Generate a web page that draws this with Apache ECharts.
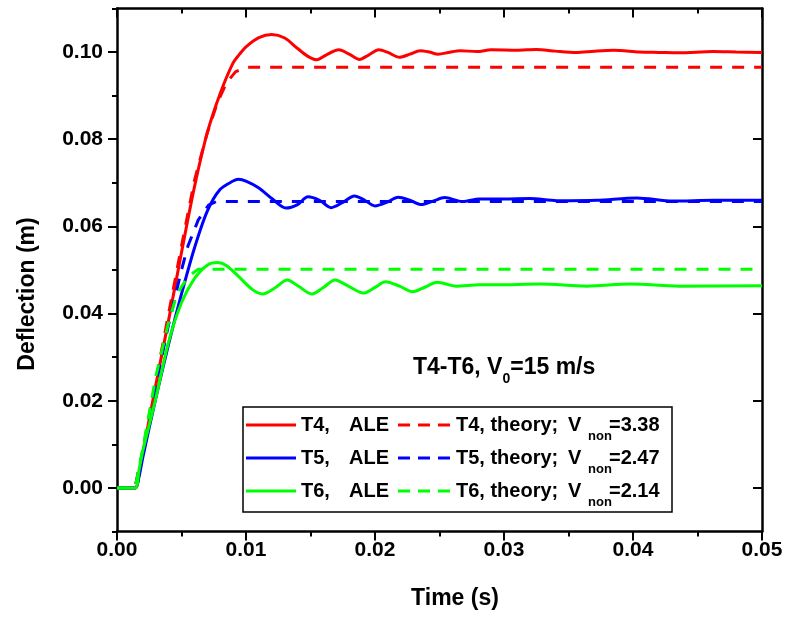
<!DOCTYPE html>
<html>
<head>
<meta charset="utf-8">
<script src="https://cdn.jsdelivr.net/npm/echarts@6/dist/echarts.min.js"></script>
<style>
  html, body { margin: 0; padding: 0; background: #fff; }
  #chart { width: 788px; height: 618px; }
</style>
</head>
<body>
<div id="chart"></div>
<script>
// ---- data: deflection histories (time in s, deflection in m) ----
const t4AleTime = [0, 0.0014, 0.0017, 0.002, 0.003, 0.004, 0.005, 0.006, 0.007, 0.008, 0.009, 0.0095, 0.010, 0.011, 0.012, 0.013, 0.014, 0.0148, 0.0155, 0.0162, 0.0172, 0.018, 0.0188, 0.0195, 0.0203, 0.021, 0.0219, 0.0227, 0.0235, 0.0242, 0.0249, 0.0257, 0.0266, 0.0279, 0.029, 0.031, 0.0325, 0.034, 0.0356, 0.037, 0.0385, 0.0405, 0.042, 0.0436, 0.0462, 0.048, 0.05];
const t4AleDefl = [0, 0, 0.003, 0.008, 0.0235, 0.0385, 0.054, 0.069, 0.0815, 0.0905, 0.0975, 0.0995, 0.1012, 0.1033, 0.104, 0.1032, 0.1008, 0.0990, 0.0982, 0.0993, 0.1005, 0.0995, 0.0983, 0.0993, 0.1005, 0.0999, 0.0988, 0.0995, 0.1003, 0.1000, 0.0995, 0.0999, 0.1003, 0.1001, 0.1005, 0.1004, 0.1006, 0.1002, 0.0999, 0.1002, 0.1004, 0.1000, 0.0999, 0.0998, 0.1001, 0.1000, 0.0999];

const t4TheoryTime = [0, 0.0014, 0.002, 0.003, 0.004, 0.005, 0.006, 0.007, 0.0078, 0.0085, 0.0092, 0.0101, 0.05];
const t4TheoryDefl = [0, 0, 0.0085, 0.0245, 0.040, 0.0555, 0.0705, 0.0815, 0.0885, 0.0930, 0.0955, 0.0965, 0.0965];

const t5AleTime = [0, 0.0014, 0.0017, 0.002, 0.003, 0.004, 0.005, 0.006, 0.007, 0.008, 0.009, 0.0094, 0.010, 0.011, 0.012, 0.0131, 0.014, 0.0148, 0.0157, 0.0166, 0.0175, 0.0184, 0.0192, 0.0200, 0.0209, 0.0218, 0.0227, 0.0236, 0.0245, 0.0254, 0.0268, 0.0281, 0.030, 0.032, 0.0341, 0.0372, 0.0403, 0.0431, 0.0462, 0.05];
const t5AleDefl = [0, 0, 0.0025, 0.007, 0.0205, 0.033, 0.0445, 0.055, 0.0635, 0.0685, 0.0704, 0.0708, 0.0704, 0.0688, 0.0664, 0.0642, 0.0650, 0.0668, 0.0660, 0.0643, 0.0655, 0.0670, 0.0660, 0.0647, 0.0655, 0.0667, 0.0660, 0.0650, 0.0658, 0.0666, 0.0657, 0.0663, 0.0663, 0.0664, 0.0659, 0.0660, 0.0665, 0.0658, 0.0660, 0.0660];

const t5TheoryTime = [0, 0.0014, 0.002, 0.003, 0.004, 0.005, 0.0055, 0.0063, 0.0071, 0.0077, 0.05];
const t5TheoryDefl = [0, 0, 0.0085, 0.0235, 0.0375, 0.050, 0.0555, 0.0615, 0.0649, 0.0657, 0.0657];

const t6AleTime = [0, 0.0014, 0.0017, 0.002, 0.003, 0.004, 0.005, 0.006, 0.007, 0.0078, 0.0085, 0.0095, 0.0105, 0.0113, 0.0122, 0.0132, 0.0141, 0.0151, 0.016, 0.0169, 0.018, 0.0191, 0.020, 0.0208, 0.0219, 0.0229, 0.0239, 0.0248, 0.0263, 0.0281, 0.0294, 0.0328, 0.0364, 0.0398, 0.0436, 0.05];
const t6AleDefl = [0, 0, 0.004, 0.0085, 0.0205, 0.0335, 0.0425, 0.048, 0.0511, 0.0517, 0.0510, 0.0483, 0.0455, 0.0445, 0.0458, 0.0477, 0.0462, 0.0445, 0.0460, 0.0477, 0.0462, 0.0447, 0.0460, 0.0473, 0.0463, 0.0450, 0.0461, 0.0472, 0.0463, 0.0466, 0.0466, 0.0468, 0.0463, 0.0468, 0.0463, 0.0464];

const t6TheoryTime = [0, 0.0014, 0.002, 0.003, 0.004, 0.0045, 0.005, 0.0056, 0.0063, 0.05];
const t6TheoryDefl = [0, 0, 0.009, 0.0255, 0.038, 0.043, 0.0462, 0.0487, 0.0502, 0.0502];

const caseNames = ['T4', 'T5', 'T6'];
const vNonValues = ['3.38', '2.47', '2.14'];
const yMajorTicks = [0, 0.02, 0.04, 0.06, 0.08, 0.10];
const xTitle = 'Time (s)';
const yTitle = 'Deflection (m)';
const annotation = { text: 'T4-T6, V', sub: '0', tail: '=15 m/s' };

// ---- styles ----
const colors = ['#ff0000', '#0000ff', '#00ff00'];
const FONT = "'Liberation Sans', Arial, sans-serif";
const AXIS_COLOR = '#000';
const DASH = [12, 10];

const pairs = (ts, vs) => ts.map((t, i) => [t, vs[i]]);

const aleSets = [[t4AleTime, t4AleDefl], [t5AleTime, t5AleDefl], [t6AleTime, t6AleDefl]];
const theorySets = [[t4TheoryTime, t4TheoryDefl], [t5TheoryTime, t5TheoryDefl], [t6TheoryTime, t6TheoryDefl]];

const series = [];
caseNames.forEach((name, k) => {
  series.push({
    name: name + ', ALE', type: 'line', showSymbol: false, smooth: 0.3,
    data: pairs(aleSets[k][0], aleSets[k][1]),
    lineStyle: { color: colors[k], width: 3 }, z: 3
  });
  series.push({
    name: name + ', theory', type: 'line', showSymbol: false, smooth: false,
    data: pairs(theorySets[k][0], theorySets[k][1]),
    lineStyle: { color: colors[k], width: 3, type: DASH }, z: 3
  });
});

const lineAx = { show: true, onZero: false, lineStyle: { color: AXIS_COLOR, width: 2.5 } };
const tickStyle = { color: AXIS_COLOR, width: 2 };
const tickLabel = { color: '#000', fontSize: 21, fontWeight: 'bold', fontFamily: FONT };

const xAxes = [
  {
    type: 'value', position: 'bottom', min: 0, max: 0.05, interval: 0.01,
    axisLine: lineAx,
    axisTick: { show: true, length: 9, inside: false, lineStyle: tickStyle },
    minorTick: { show: true, splitNumber: 2, length: 5, lineStyle: tickStyle },
    axisLabel: Object.assign({ show: true, margin: 8, formatter: v => v.toFixed(2) }, tickLabel),
    splitLine: { show: false }
  },
  {
    type: 'value', position: 'top', min: 0, max: 0.05, interval: 0.01,
    axisLine: lineAx,
    axisTick: { show: true, length: 9, inside: true, lineStyle: tickStyle },
    minorTick: { show: true, splitNumber: 2, length: 5, lineStyle: tickStyle },
    axisLabel: { show: false }, splitLine: { show: false }
  }
];

const yBase = { type: 'value', min: -0.01, max: 0.11, interval: 0.01, splitLine: { show: false } };
const yAxes = [
  Object.assign({}, yBase, {
    position: 'left',
    axisLine: lineAx,
    axisTick: { show: true, length: 9, inside: false, customValues: yMajorTicks, lineStyle: tickStyle },
    axisLabel: Object.assign({ show: true, margin: 14, customValues: yMajorTicks, formatter: v => v.toFixed(2) }, tickLabel)
  }),
  Object.assign({}, yBase, {
    position: 'left',
    axisLine: { show: false },
    axisTick: { show: true, length: 5, inside: false, lineStyle: tickStyle },
    axisLabel: { show: false }
  }),
  Object.assign({}, yBase, {
    position: 'right',
    axisLine: lineAx,
    axisTick: { show: true, length: 9, inside: true, customValues: yMajorTicks, lineStyle: tickStyle },
    axisLabel: { show: false }
  }),
  Object.assign({}, yBase, {
    position: 'right',
    axisLine: { show: false },
    axisTick: { show: true, length: 5, inside: true, lineStyle: tickStyle },
    axisLabel: { show: false }
  })
];

// ---- axis titles, legend box and annotation as graphic elements ----
const titleFont = { fontSize: 23, fontWeight: 'bold', fontFamily: FONT, fill: '#000' };
const graphics = [
  { type: 'text', z: 11, style: Object.assign({ text: xTitle, x: 455, y: 599, align: 'center', verticalAlign: 'middle' }, titleFont) },
  { type: 'text', z: 11, x: 28, y: 294, rotation: Math.PI / 2,
    style: Object.assign({ text: yTitle, x: 0, y: 0, align: 'center', verticalAlign: 'middle' }, titleFont) }
];

const legendBox = { x: 243, y: 407, w: 429, h: 105 };
const rowY = [425, 458, 491];
const legendFont = { fontSize: 20, fontWeight: 'bold', fontFamily: FONT, fill: '#000' };
graphics.push({ type: 'rect', z: 10, shape: { x: legendBox.x, y: legendBox.y, width: legendBox.w, height: legendBox.h },
  style: { fill: '#fff', stroke: '#000', lineWidth: 1.5 } });
caseNames.forEach((name, k) => {
  const y = rowY[k];
  graphics.push({ type: 'line', z: 11, shape: { x1: 246, y1: y, x2: 296, y2: y },
    style: { stroke: colors[k], lineWidth: 3 } });
  graphics.push({ type: 'text', z: 11, style: Object.assign({ text: name + ',', x: 301, y: y, verticalAlign: 'middle' }, legendFont) });
  graphics.push({ type: 'text', z: 11, style: Object.assign({ text: 'ALE', x: 349, y: y, verticalAlign: 'middle' }, legendFont) });
  graphics.push({ type: 'line', z: 11, shape: { x1: 398, y1: y, x2: 451, y2: y },
    style: { stroke: colors[k], lineWidth: 3, lineDash: [12, 8] } });
  graphics.push({ type: 'text', z: 11, style: Object.assign({ text: name + ', theory;', x: 456, y: y, verticalAlign: 'middle' }, legendFont) });
  graphics.push({ type: 'text', z: 11, style: Object.assign({ text: 'V', x: 568, y: y, verticalAlign: 'middle' }, legendFont) });
  graphics.push({ type: 'text', z: 11, style: Object.assign({}, legendFont, { text: 'non', x: 588, y: y + 11, verticalAlign: 'middle', fontSize: 13 }) });
  graphics.push({ type: 'text', z: 11, style: Object.assign({ text: '=' + vNonValues[k], x: 609, y: y, verticalAlign: 'middle' }, legendFont) });
});

graphics.push({
  type: 'text', z: 11,
  style: {
    x: 413, y: 368, verticalAlign: 'middle',
    text: '{m|' + annotation.text + '}{s|' + annotation.sub + '}{m|' + annotation.tail + '}',
    rich: {
      m: { fontSize: 23, fontWeight: 'bold', fontFamily: FONT, color: '#000', lineHeight: 36 },
      s: { fontSize: 14, fontWeight: 'bold', fontFamily: FONT, color: '#000', lineHeight: 14, verticalAlign: 'bottom' }
    }
  }
});

const chart = echarts.init(document.getElementById('chart'), null, { renderer: 'canvas' });
chart.setOption({
  animation: false,
  backgroundColor: '#fff',
  grid: { left: 117, right: 26, top: 8.4, bottom: 86.4, containLabel: false },
  xAxis: xAxes,
  yAxis: yAxes,
  series: series,
  graphic: graphics
});
</script>
</body>
</html>
